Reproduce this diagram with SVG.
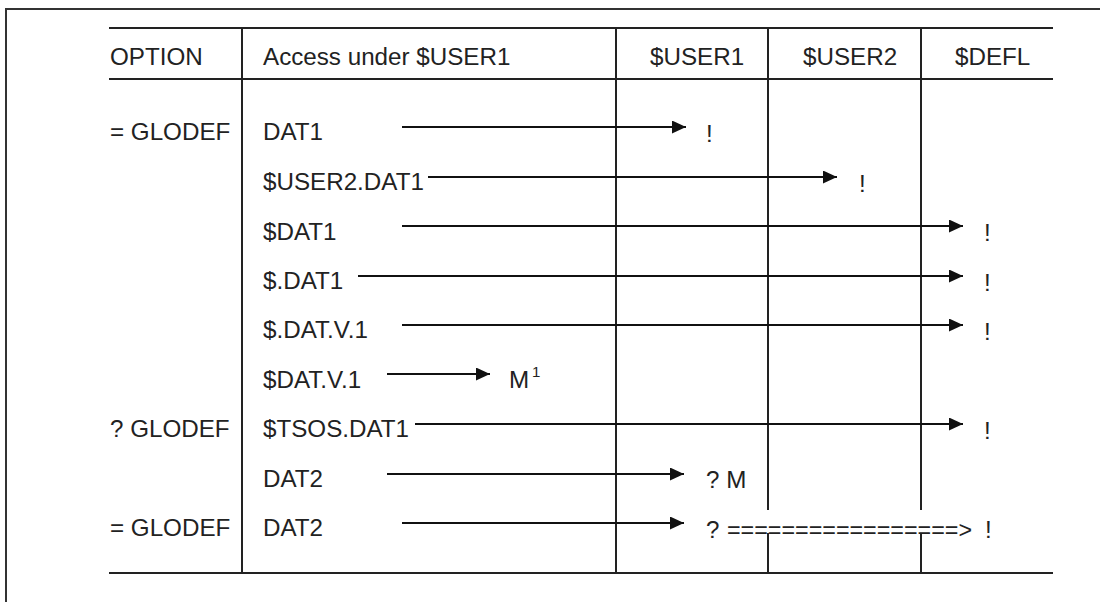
<svg xmlns="http://www.w3.org/2000/svg" width="1100" height="602" viewBox="0 0 1100 602">
<style>
text{font-family:"Liberation Sans",Arial,sans-serif;font-size:24.2px;fill:#222}
.sup{font-size:15px}
.grid line{stroke:#222;stroke-width:2}
.conn line{stroke:#111;stroke-width:2}
</style>
<defs>
<marker id="ah" markerUnits="userSpaceOnUse" markerWidth="16" markerHeight="16" refX="14" refY="6.5" orient="auto">
<path d="M0,0 L14,6.5 L0,13 Z" fill="#111"/>
</marker>
</defs>
<rect width="1100" height="602" fill="#fff"/>
<rect x="6" y="9" width="1200" height="700" fill="none" stroke="#333" stroke-width="2"/>
<g id="table" class="grid">
<line x1="109" y1="28" x2="1053" y2="28"/>
<line x1="109" y1="79" x2="1053" y2="79"/>
<line x1="109" y1="573" x2="1053" y2="573"/>
<line x1="242" y1="28" x2="242" y2="573"/>
<line x1="616" y1="28" x2="616" y2="573"/>
<line x1="768" y1="28" x2="768" y2="510"/>
<line x1="768" y1="533" x2="768" y2="573"/>
<line x1="921" y1="28" x2="921" y2="510"/>
<line x1="921" y1="533" x2="921" y2="573"/>
</g>
<g id="header">
<text x="110" y="65">OPTION</text>
<text x="263" y="65">Access under $USER1</text>
<text x="650" y="65">$USER1</text>
<text x="803" y="65">$USER2</text>
<text x="955" y="65">$DEFL</text>
</g>
<g id="options">
<text x="110" y="140">= GLODEF</text>
<text x="110" y="437">? GLODEF</text>
<text x="110" y="536">= GLODEF</text>
</g>
<g id="n1"><text x="263" y="140">DAT1</text><text x="706" y="142">!</text></g>
<g id="n2"><text x="263" y="190">$USER2.DAT1</text><text x="859" y="192">!</text></g>
<g id="n3"><text x="263" y="240">$DAT1</text><text x="984" y="241">!</text></g>
<g id="n4"><text x="263" y="289">$.DAT1</text><text x="984" y="291">!</text></g>
<g id="n5"><text x="263" y="338">$.DAT.V.1</text><text x="984" y="340">!</text></g>
<g id="n6"><text x="263" y="388">$DAT.V.1</text><text x="509" y="388">M</text><text class="sup" x="532" y="377">1</text></g>
<g id="n7"><text x="263" y="437">$TSOS.DAT1</text><text x="984" y="439">!</text></g>
<g id="n8"><text x="263" y="487">DAT2</text><text x="706" y="488">? M</text></g>
<g id="n9"><text x="263" y="536">DAT2</text><text x="706" y="538">?</text><text x="727" y="538" textLength="245" lengthAdjust="spacingAndGlyphs">=================&gt;</text><text x="985" y="538">!</text></g>
<g id="connectors" class="conn">
<line x1="402" y1="127" x2="686" y2="127" marker-end="url(#ah)"/>
<line x1="428" y1="177" x2="837" y2="177" marker-end="url(#ah)"/>
<line x1="402" y1="226" x2="963" y2="226" marker-end="url(#ah)"/>
<line x1="358" y1="276" x2="963" y2="276" marker-end="url(#ah)"/>
<line x1="402" y1="325" x2="963" y2="325" marker-end="url(#ah)"/>
<line x1="387" y1="374" x2="490" y2="374" marker-end="url(#ah)"/>
<line x1="415" y1="424" x2="963" y2="424" marker-end="url(#ah)"/>
<line x1="387" y1="474" x2="684" y2="474" marker-end="url(#ah)"/>
<line x1="402" y1="523" x2="684" y2="523" marker-end="url(#ah)"/>
</g>
</svg>
